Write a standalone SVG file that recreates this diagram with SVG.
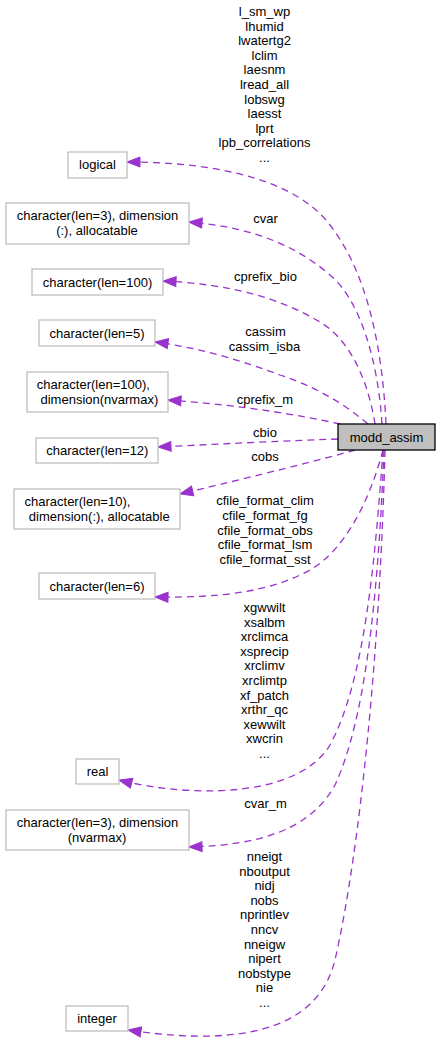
<svg xmlns="http://www.w3.org/2000/svg" width="440" height="1048" viewBox="0 0 440 1048">
<style>
text{font-family:"Liberation Sans",Arial,sans-serif;font-size:13px;fill:#000}
.n rect{fill:#fff;stroke:#bfbfbf;stroke-width:1.3}
.c{text-anchor:middle}
.e path{fill:none;stroke:#9a32cd;stroke-width:1.3;stroke-dasharray:7,5;marker-end:url(#ah)}
.e text{text-anchor:middle}
</style>
<defs>
<marker id="ah" markerUnits="userSpaceOnUse" markerWidth="14" markerHeight="11" refX="13" refY="5" orient="auto" overflow="visible">
<path d="M0,0 L13,5 L0,10 z" fill="#9a32cd" stroke="#9a32cd" stroke-width="1"/>
</marker>
</defs>
<rect width="440" height="1048" fill="#fff"/>
<g id="connectors" class="e">
<g id="e-logical"><path d="M386,424 C382,340 365,270 330,225 C300,185 230,162 127,162"/>
<text x="264.5" y="16">l_sm_wp</text><text x="264.5" y="30.6">lhumid</text><text x="264.5" y="45.2">lwatertg2</text><text x="264.5" y="59.8">lclim</text><text x="264.5" y="74.4">laesnm</text><text x="264.5" y="89">lread_all</text><text x="264.5" y="103.6">lobswg</text><text x="264.5" y="118.2">laesst</text><text x="264.5" y="132.8">lprt</text><text x="264.5" y="147.4">lpb_correlations</text><text x="264.5" y="162">...</text></g>
<g id="e-cvar"><path d="M382,424 C378,360 360,300 330,275 C290,240 240,226 189,222"/><text x="265.5" y="223">cvar</text></g>
<g id="e-cprefix_bio"><path d="M375,424 C368,380 350,340 320,322 C280,298 230,284 163,281"/><text x="265.5" y="281">cprefix_bio</text></g>
<g id="e-cassim"><path d="M368,424 C340,400 310,385 280,375 C240,360 200,348 155,342"/><text x="265.5" y="336">cassim</text><text x="264.5" y="350.6">cassim_isba</text></g>
<g id="e-cprefix_m"><path d="M340,424 C300,415 240,405 168,400"/><text x="265" y="403.5">cprefix_m</text></g>
<g id="e-cbio"><path d="M338,439 C280,441 220,444 158,447"/><text x="265" y="437">cbio</text></g>
<g id="e-cobs"><path d="M355,450 C320,460 260,475 180,494"/><text x="265" y="461">cobs</text></g>
<g id="e-cfile"><path d="M383,450 C370,500 345,550 310,570 C270,592 220,598 155,597"/>
<text x="265" y="505">cfile_format_clim</text><text x="265" y="520">cfile_format_fg</text><text x="265" y="535">cfile_format_obs</text><text x="265" y="549">cfile_format_lsm</text><text x="265" y="563.8">cfile_format_sst</text></g>
<g id="e-real"><path d="M383,450 C375,560 365,680 330,745 C300,795 200,800 119,780"/>
<text x="264.5" y="612">xgwwilt</text><text x="264.5" y="626.6">xsalbm</text><text x="264.5" y="641.2">xrclimca</text><text x="264.5" y="655.8">xsprecip</text><text x="264.5" y="670.4">xrclimv</text><text x="264.5" y="685">xrclimtp</text><text x="264.5" y="699.6">xf_patch</text><text x="264.5" y="714.2">xrthr_qc</text><text x="264.5" y="728.8">xewwilt</text><text x="264.5" y="743.4">xwcrin</text><text x="264.5" y="758">...</text></g>
<g id="e-cvar_m"><path d="M384,450 C378,600 365,720 335,785 C310,830 260,845 189,847"/><text x="265.5" y="808">cvar_m</text></g>
<g id="e-integer"><path d="M385,450 C380,650 360,850 335,960 C320,1020 260,1050 128,1030"/>
<text x="264.5" y="861">nneigt</text><text x="264.5" y="875.6">nboutput</text><text x="264.5" y="890.2">nidj</text><text x="264.5" y="904.8">nobs</text><text x="264.5" y="919.4">nprintlev</text><text x="264.5" y="934">nncv</text><text x="264.5" y="948.6">nneigw</text><text x="264.5" y="963.2">nipert</text><text x="264.5" y="977.8">nobstype</text><text x="264.5" y="992.4">nie</text><text x="264.5" y="1007">...</text></g>
</g>
<g id="modd_assim"><rect x="338" y="424" width="97" height="26" fill="#bfbfbf" stroke="#000" stroke-width="1.3"/><text class="c" x="386.5" y="441.5">modd_assim</text></g>
<g id="n-logical" class="n"><rect x="68" y="152" width="59" height="26"/><text class="c" x="97.5" y="169">logical</text></g>
<g id="n-char3alloc" class="n"><rect x="6" y="203" width="183" height="41"/><text class="c" x="97.5" y="220">character(len=3), dimension</text><text class="c" x="97" y="235">(:), allocatable</text></g>
<g id="n-char100" class="n"><rect x="32" y="269" width="131" height="26"/><text class="c" x="97.5" y="286.5">character(len=100)</text></g>
<g id="n-char5" class="n"><rect x="39" y="320" width="116" height="26"/><text class="c" x="97" y="337.5">character(len=5)</text></g>
<g id="n-char100nv" class="n"><rect x="27" y="372" width="141" height="40"/><text x="36.8" y="388.5">character(len=100),</text><text x="40.5" y="403.5">dimension(nvarmax)</text></g>
<g id="n-char12" class="n"><rect x="36" y="438" width="122" height="25"/><text class="c" x="97.3" y="455">character(len=12)</text></g>
<g id="n-char10alloc" class="n"><rect x="14" y="489" width="166" height="40"/><text x="24.5" y="505.5">character(len=10),</text><text x="28.8" y="520.5">dimension(:), allocatable</text></g>
<g id="n-char6" class="n"><rect x="39" y="573" width="116" height="26"/><text class="c" x="97" y="590.5">character(len=6)</text></g>
<g id="n-real" class="n"><rect x="76" y="759" width="43" height="25"/><text class="c" x="97.5" y="776">real</text></g>
<g id="n-char3nv" class="n"><rect x="6" y="810" width="183" height="40"/><text class="c" x="97.5" y="826.5">character(len=3), dimension</text><text class="c" x="97" y="841.5">(nvarmax)</text></g>
<g id="n-integer" class="n"><rect x="66" y="1006" width="62" height="25"/><text class="c" x="97" y="1023">integer</text></g>
</svg>
